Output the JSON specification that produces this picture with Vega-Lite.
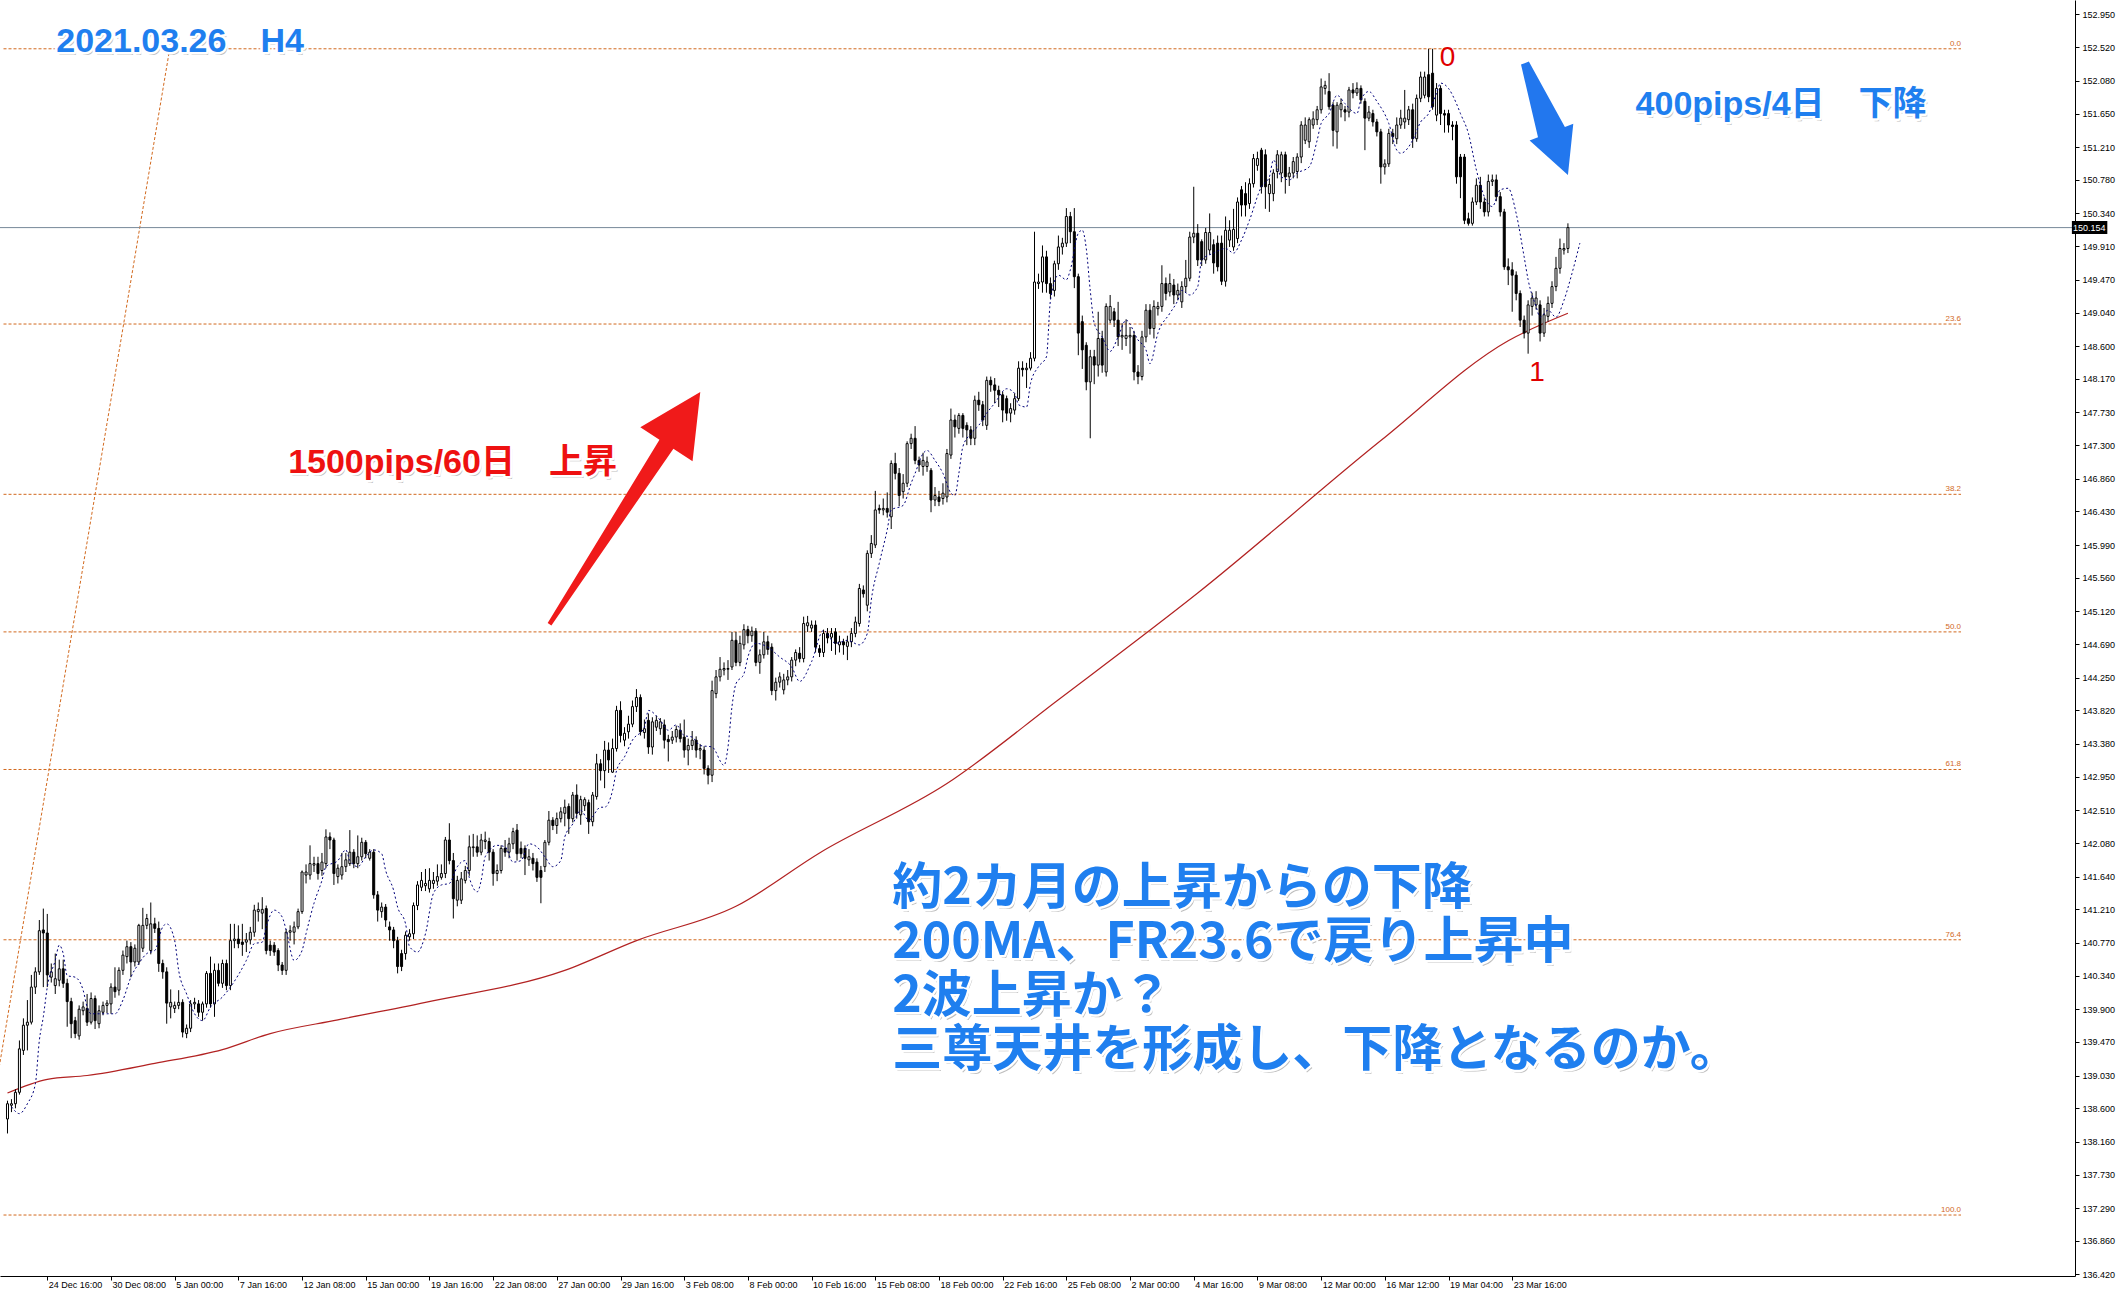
{
"$schema":"https://vega.github.io/schema/vega-lite/v6.json",
"width":2075,"height":1276,
"autosize":{"type":"none"},
"padding":{"left":0,"top":0,"right":43,"bottom":14},
"background":"white",
"config":{"view":{"stroke":null}},
"resolve":{"axis":{"x":"independent","y":"independent"}},
"datasets":{
"candles":[
{"i":0,"o":138.46,"h":138.7,"l":138.27,"c":138.66},{"i":1,"o":138.64,"h":138.72,"l":138.55,"c":138.66},{"i":2,"o":138.66,"h":138.85,"l":138.6,"c":138.81},{"i":3,"o":138.81,"h":139.49,"l":138.78,"c":139.38},{"i":4,"o":139.36,"h":139.78,"l":139.3,"c":139.69},{"i":5,"o":139.69,"h":140.02,"l":139.36,"c":139.73},{"i":6,"o":139.73,"h":140.35,"l":139.7,"c":140.19},{"i":7,"o":140.19,"h":140.45,"l":140.1,"c":140.39},{"i":8,"o":140.39,"h":141.07,"l":140.35,"c":140.93},{"i":9,"o":140.94,"h":141.22,"l":140.19,"c":140.9},
{"i":10,"o":140.9,"h":141.15,"l":140.19,"c":140.35},{"i":11,"o":140.32,"h":140.5,"l":140.25,"c":140.39},{"i":12,"o":140.21,"h":140.63,"l":140.1,"c":140.3},{"i":13,"o":140.28,"h":140.55,"l":140.2,"c":140.43},{"i":14,"o":140.43,"h":140.55,"l":140.18,"c":140.24},{"i":15,"o":140.24,"h":140.3,"l":139.67,"c":140.0},{"i":16,"o":140.0,"h":140.05,"l":139.52,"c":139.71},{"i":17,"o":139.75,"h":139.8,"l":139.52,"c":139.58},{"i":18,"o":139.55,"h":139.95,"l":139.5,"c":139.9},{"i":19,"o":139.88,"h":140.0,"l":139.82,"c":139.93},
{"i":20,"o":139.91,"h":140.1,"l":139.68,"c":139.73},{"i":21,"o":139.73,"h":140.12,"l":139.7,"c":140.04},{"i":22,"o":140.04,"h":140.08,"l":139.64,"c":139.75},{"i":23,"o":139.71,"h":139.95,"l":139.65,"c":139.88},{"i":24,"o":139.86,"h":140.0,"l":139.82,"c":139.95},{"i":25,"o":139.95,"h":140.02,"l":139.85,"c":139.98},{"i":26,"o":139.97,"h":140.24,"l":139.84,"c":140.19},{"i":27,"o":140.19,"h":140.45,"l":140.05,"c":140.13},{"i":28,"o":140.15,"h":140.45,"l":140.08,"c":140.41},{"i":29,"o":140.41,"h":140.67,"l":140.35,"c":140.61},
{"i":30,"o":140.59,"h":140.8,"l":140.5,"c":140.72},{"i":31,"o":140.72,"h":140.78,"l":140.32,"c":140.52},{"i":32,"o":140.52,"h":140.75,"l":140.46,"c":140.7},{"i":33,"o":140.52,"h":141.02,"l":140.48,"c":141.0},{"i":34,"o":140.7,"h":141.23,"l":140.65,"c":141.0},{"i":35,"o":141.0,"h":141.15,"l":140.95,"c":141.09},{"i":36,"o":140.67,"h":141.3,"l":140.62,"c":141.02},{"i":37,"o":141.02,"h":141.1,"l":140.9,"c":140.96},{"i":38,"o":140.96,"h":141.05,"l":140.39,"c":140.5},{"i":39,"o":140.5,"h":140.55,"l":140.3,"c":140.39},
{"i":40,"o":140.39,"h":140.45,"l":139.71,"c":139.98},{"i":41,"o":139.93,"h":140.16,"l":139.78,"c":139.99},{"i":42,"o":139.91,"h":140.0,"l":139.85,"c":139.95},{"i":43,"o":139.95,"h":140.15,"l":139.9,"c":139.99},{"i":44,"o":139.99,"h":140.03,"l":139.53,"c":139.6},{"i":45,"o":139.58,"h":139.7,"l":139.52,"c":139.65},{"i":46,"o":139.65,"h":140.02,"l":139.6,"c":139.97},{"i":47,"o":139.97,"h":140.05,"l":139.9,"c":139.99},{"i":48,"o":139.97,"h":140.02,"l":139.8,"c":139.86},{"i":49,"o":139.86,"h":140.0,"l":139.75,"c":139.97},
{"i":50,"o":139.97,"h":140.4,"l":139.92,"c":140.37},{"i":51,"o":140.37,"h":140.59,"l":139.92,"c":139.97},{"i":52,"o":139.97,"h":140.5,"l":139.8,"c":140.41},{"i":53,"o":140.41,"h":140.5,"l":140.2,"c":140.24},{"i":54,"o":140.24,"h":140.55,"l":140.18,"c":140.5},{"i":55,"o":140.5,"h":140.55,"l":140.15,"c":140.21},{"i":56,"o":140.21,"h":141.02,"l":140.15,"c":140.8},{"i":57,"o":140.8,"h":141.02,"l":140.7,"c":140.82},{"i":58,"o":140.82,"h":141.0,"l":140.7,"c":140.76},{"i":59,"o":140.78,"h":141.02,"l":140.6,"c":140.75},
{"i":60,"o":140.78,"h":140.9,"l":140.65,"c":140.81},{"i":61,"o":140.81,"h":140.98,"l":140.75,"c":140.91},{"i":62,"o":140.91,"h":141.27,"l":140.85,"c":141.2},{"i":63,"o":141.18,"h":141.3,"l":141.05,"c":141.21},{"i":64,"o":141.16,"h":141.37,"l":140.95,"c":141.21},{"i":65,"o":141.22,"h":141.26,"l":140.62,"c":140.67},{"i":66,"o":140.74,"h":140.8,"l":140.6,"c":140.67},{"i":67,"o":140.74,"h":140.78,"l":140.6,"c":140.65},{"i":68,"o":140.67,"h":140.7,"l":140.4,"c":140.48},{"i":69,"o":140.48,"h":140.52,"l":140.35,"c":140.41},
{"i":70,"o":140.41,"h":140.95,"l":140.35,"c":140.91},{"i":71,"o":140.91,"h":141.0,"l":140.8,"c":140.93},{"i":72,"o":140.91,"h":141.05,"l":140.75,"c":140.98},{"i":73,"o":140.98,"h":141.22,"l":140.95,"c":141.18},{"i":74,"o":141.18,"h":141.72,"l":141.15,"c":141.7},{"i":75,"o":141.66,"h":141.8,"l":141.55,"c":141.7},{"i":76,"o":141.66,"h":142.05,"l":141.6,"c":141.81},{"i":77,"o":141.79,"h":141.9,"l":141.7,"c":141.81},{"i":78,"o":141.81,"h":141.9,"l":141.6,"c":141.68},{"i":79,"o":141.72,"h":141.95,"l":141.65,"c":141.83},
{"i":80,"o":141.81,"h":142.26,"l":141.75,"c":142.16},{"i":81,"o":142.16,"h":142.22,"l":142.0,"c":142.12},{"i":82,"o":142.12,"h":142.15,"l":141.53,"c":141.68},{"i":83,"o":141.64,"h":141.8,"l":141.55,"c":141.75},{"i":84,"o":141.66,"h":141.95,"l":141.6,"c":141.77},{"i":85,"o":141.77,"h":141.95,"l":141.7,"c":141.86},{"i":86,"o":141.81,"h":142.25,"l":141.78,"c":141.96},{"i":87,"o":141.96,"h":142.0,"l":141.75,"c":141.81},{"i":88,"o":141.81,"h":142.18,"l":141.75,"c":141.9},{"i":89,"o":141.9,"h":142.15,"l":141.85,"c":142.09},
{"i":90,"o":142.09,"h":142.12,"l":141.88,"c":141.94},{"i":91,"o":141.88,"h":142.0,"l":141.85,"c":141.96},{"i":92,"o":141.96,"h":142.0,"l":141.35,"c":141.4},{"i":93,"o":141.4,"h":141.45,"l":141.05,"c":141.2},{"i":94,"o":141.18,"h":141.3,"l":141.1,"c":141.24},{"i":95,"o":141.24,"h":141.28,"l":140.98,"c":141.07},{"i":96,"o":140.98,"h":141.05,"l":140.8,"c":140.94},{"i":97,"o":140.94,"h":140.98,"l":140.7,"c":140.8},{"i":98,"o":140.8,"h":140.85,"l":140.37,"c":140.46},{"i":99,"o":140.63,"h":140.68,"l":140.4,"c":140.46},
{"i":100,"o":140.63,"h":140.92,"l":140.55,"c":140.87},{"i":101,"o":140.85,"h":140.95,"l":140.8,"c":140.89},{"i":102,"o":140.89,"h":141.3,"l":140.82,"c":141.26},{"i":103,"o":141.26,"h":141.58,"l":141.2,"c":141.53},{"i":104,"o":141.5,"h":141.7,"l":141.45,"c":141.59},{"i":105,"o":141.52,"h":141.74,"l":141.45,"c":141.55},{"i":106,"o":141.48,"h":141.75,"l":141.43,"c":141.59},{"i":107,"o":141.55,"h":141.7,"l":141.48,"c":141.59},{"i":108,"o":141.58,"h":141.8,"l":141.52,"c":141.64},{"i":109,"o":141.63,"h":141.8,"l":141.6,"c":141.68},
{"i":110,"o":141.68,"h":142.16,"l":141.62,"c":142.12},{"i":111,"o":142.12,"h":142.34,"l":141.8,"c":141.85},{"i":112,"o":141.85,"h":141.95,"l":141.09,"c":141.35},{"i":113,"o":141.33,"h":141.65,"l":141.25,"c":141.59},{"i":114,"o":141.33,"h":141.7,"l":141.28,"c":141.61},{"i":115,"o":141.59,"h":141.78,"l":141.55,"c":141.72},{"i":116,"o":141.72,"h":142.18,"l":141.65,"c":142.03},{"i":117,"o":142.02,"h":142.2,"l":141.9,"c":142.03},{"i":118,"o":142.03,"h":142.18,"l":141.9,"c":141.96},{"i":119,"o":141.96,"h":142.2,"l":141.92,"c":142.12},
{"i":120,"o":142.1,"h":142.23,"l":142.0,"c":142.12},{"i":121,"o":142.1,"h":142.15,"l":141.85,"c":141.96},{"i":122,"o":141.96,"h":142.0,"l":141.52,"c":141.68},{"i":123,"o":141.68,"h":141.8,"l":141.58,"c":141.72},{"i":124,"o":141.72,"h":142.05,"l":141.68,"c":142.01},{"i":125,"o":142.01,"h":142.12,"l":141.9,"c":141.96},{"i":126,"o":141.96,"h":142.15,"l":141.88,"c":142.07},{"i":127,"o":142.07,"h":142.28,"l":142.0,"c":142.23},{"i":128,"o":142.25,"h":142.33,"l":141.85,"c":141.94},{"i":129,"o":142.01,"h":142.1,"l":141.88,"c":141.94},
{"i":130,"o":142.01,"h":142.05,"l":141.66,"c":141.88},{"i":131,"o":141.86,"h":142.0,"l":141.78,"c":141.9},{"i":132,"o":141.88,"h":141.95,"l":141.72,"c":141.81},{"i":133,"o":141.83,"h":141.88,"l":141.57,"c":141.63},{"i":134,"o":141.72,"h":141.78,"l":141.29,"c":141.63},{"i":135,"o":141.77,"h":142.12,"l":141.7,"c":142.09},{"i":136,"o":142.09,"h":142.5,"l":142.05,"c":142.38},{"i":137,"o":142.38,"h":142.42,"l":142.25,"c":142.31},{"i":138,"o":142.31,"h":142.48,"l":142.2,"c":142.4},{"i":139,"o":142.4,"h":142.55,"l":142.35,"c":142.49},
{"i":140,"o":142.47,"h":142.65,"l":142.3,"c":142.55},{"i":141,"o":142.56,"h":142.6,"l":142.2,"c":142.4},{"i":142,"o":142.4,"h":142.75,"l":142.35,"c":142.71},{"i":143,"o":142.71,"h":142.85,"l":142.4,"c":142.47},{"i":144,"o":142.45,"h":142.7,"l":142.32,"c":142.65},{"i":145,"o":142.57,"h":142.68,"l":142.5,"c":142.65},{"i":146,"o":142.61,"h":142.65,"l":142.2,"c":142.36},{"i":147,"o":142.36,"h":142.75,"l":142.3,"c":142.71},{"i":148,"o":142.69,"h":143.25,"l":142.65,"c":143.12},{"i":149,"o":143.12,"h":143.18,"l":142.9,"c":143.03},
{"i":150,"o":143.03,"h":143.42,"l":142.8,"c":143.3},{"i":151,"o":143.3,"h":143.4,"l":143.0,"c":143.17},{"i":152,"o":143.01,"h":143.45,"l":143.0,"c":143.32},{"i":153,"o":143.32,"h":143.88,"l":143.28,"c":143.82},{"i":154,"o":143.82,"h":143.94,"l":143.4,"c":143.49},{"i":155,"o":143.43,"h":143.6,"l":143.35,"c":143.52},{"i":156,"o":143.54,"h":143.75,"l":143.45,"c":143.64},{"i":157,"o":143.64,"h":143.95,"l":143.6,"c":143.87},{"i":158,"o":143.87,"h":144.1,"l":143.8,"c":143.99},{"i":159,"o":143.99,"h":144.03,"l":143.49,"c":143.54},
{"i":160,"o":143.53,"h":143.7,"l":143.45,"c":143.58},{"i":161,"o":143.69,"h":143.78,"l":143.25,"c":143.34},{"i":162,"o":143.34,"h":143.73,"l":143.24,"c":143.67},{"i":163,"o":143.6,"h":143.75,"l":143.55,"c":143.69},{"i":164,"o":143.58,"h":143.72,"l":143.5,"c":143.67},{"i":165,"o":143.63,"h":143.7,"l":143.32,"c":143.43},{"i":166,"o":143.44,"h":143.5,"l":143.15,"c":143.41},{"i":167,"o":143.43,"h":143.55,"l":143.38,"c":143.47},{"i":168,"o":143.47,"h":143.62,"l":143.4,"c":143.57},{"i":169,"o":143.56,"h":143.65,"l":143.4,"c":143.45},
{"i":170,"o":143.47,"h":143.7,"l":143.2,"c":143.3},{"i":171,"o":143.3,"h":143.45,"l":143.1,"c":143.36},{"i":172,"o":143.36,"h":143.55,"l":143.3,"c":143.43},{"i":173,"o":143.43,"h":143.48,"l":143.2,"c":143.3},{"i":174,"o":143.3,"h":143.38,"l":143.18,"c":143.32},{"i":175,"o":143.3,"h":143.35,"l":142.98,"c":143.06},{"i":176,"o":143.06,"h":143.1,"l":142.85,"c":142.97},{"i":177,"o":142.97,"h":144.21,"l":142.88,"c":144.08},{"i":178,"o":144.04,"h":144.35,"l":143.98,"c":144.26},{"i":179,"o":144.26,"h":144.52,"l":144.2,"c":144.36},
{"i":180,"o":144.35,"h":144.45,"l":144.28,"c":144.37},{"i":181,"o":144.36,"h":144.48,"l":144.22,"c":144.37},{"i":182,"o":144.39,"h":144.85,"l":144.35,"c":144.74},{"i":183,"o":144.74,"h":144.85,"l":144.4,"c":144.45},{"i":184,"o":144.45,"h":144.8,"l":144.4,"c":144.7},{"i":185,"o":144.68,"h":144.95,"l":144.62,"c":144.88},{"i":186,"o":144.88,"h":144.93,"l":144.7,"c":144.8},{"i":187,"o":144.8,"h":144.92,"l":144.72,"c":144.86},{"i":188,"o":144.86,"h":144.9,"l":144.4,"c":144.45},{"i":189,"o":144.45,"h":144.62,"l":144.3,"c":144.55},
{"i":190,"o":144.55,"h":144.85,"l":144.5,"c":144.72},{"i":191,"o":144.72,"h":144.8,"l":144.55,"c":144.62},{"i":192,"o":144.65,"h":144.7,"l":144.02,"c":144.08},{"i":193,"o":144.08,"h":144.25,"l":143.95,"c":144.19},{"i":194,"o":144.19,"h":144.32,"l":144.12,"c":144.26},{"i":195,"o":144.09,"h":144.3,"l":144.03,"c":144.22},{"i":196,"o":144.22,"h":144.35,"l":144.15,"c":144.26},{"i":197,"o":144.26,"h":144.52,"l":144.2,"c":144.48},{"i":198,"o":144.48,"h":144.62,"l":144.4,"c":144.58},{"i":199,"o":144.57,"h":144.65,"l":144.45,"c":144.5},
{"i":200,"o":144.5,"h":145.05,"l":144.45,"c":144.96},{"i":201,"o":144.93,"h":145.06,"l":144.85,"c":144.97},{"i":202,"o":144.9,"h":145.0,"l":144.85,"c":144.94},{"i":203,"o":144.94,"h":145.0,"l":144.58,"c":144.65},{"i":204,"o":144.63,"h":144.68,"l":144.52,"c":144.58},{"i":205,"o":144.58,"h":144.88,"l":144.52,"c":144.83},{"i":206,"o":144.83,"h":144.9,"l":144.7,"c":144.77},{"i":207,"o":144.78,"h":144.9,"l":144.6,"c":144.83},{"i":208,"o":144.85,"h":144.9,"l":144.55,"c":144.7},{"i":209,"o":144.68,"h":144.8,"l":144.58,"c":144.72},
{"i":210,"o":144.72,"h":144.76,"l":144.55,"c":144.68},{"i":211,"o":144.66,"h":144.8,"l":144.48,"c":144.72},{"i":212,"o":144.72,"h":144.9,"l":144.65,"c":144.83},{"i":213,"o":144.83,"h":145.05,"l":144.78,"c":144.98},{"i":214,"o":144.96,"h":145.48,"l":144.92,"c":145.42},{"i":215,"o":145.4,"h":145.46,"l":145.3,"c":145.35},{"i":216,"o":145.2,"h":145.92,"l":145.12,"c":145.88},{"i":217,"o":145.88,"h":146.12,"l":145.82,"c":146.01},{"i":218,"o":145.99,"h":146.7,"l":145.95,"c":146.45},{"i":219,"o":146.47,"h":146.52,"l":146.4,"c":146.45},
{"i":220,"o":146.45,"h":146.6,"l":146.38,"c":146.47},{"i":221,"o":146.47,"h":146.68,"l":146.35,"c":146.42},{"i":222,"o":146.36,"h":147.1,"l":146.2,"c":147.06},{"i":223,"o":147.06,"h":147.2,"l":146.85,"c":146.93},{"i":224,"o":146.93,"h":147.0,"l":146.5,"c":146.64},{"i":225,"o":146.69,"h":146.92,"l":146.6,"c":146.8},{"i":226,"o":146.8,"h":147.35,"l":146.75,"c":147.32},{"i":227,"o":147.32,"h":147.45,"l":147.25,"c":147.39},{"i":228,"o":147.39,"h":147.55,"l":147.05,"c":147.1},{"i":229,"o":147.1,"h":147.15,"l":146.95,"c":147.04},
{"i":230,"o":147.02,"h":147.2,"l":146.9,"c":147.1},{"i":231,"o":147.02,"h":147.15,"l":146.95,"c":147.08},{"i":232,"o":146.97,"h":147.0,"l":146.42,"c":146.58},{"i":233,"o":146.58,"h":146.75,"l":146.5,"c":146.64},{"i":234,"o":146.62,"h":146.7,"l":146.5,"c":146.56},{"i":235,"o":146.6,"h":146.8,"l":146.52,"c":146.67},{"i":236,"o":146.62,"h":147.25,"l":146.55,"c":147.19},{"i":237,"o":147.17,"h":147.78,"l":147.12,"c":147.63},{"i":238,"o":147.63,"h":147.7,"l":147.4,"c":147.54},{"i":239,"o":147.52,"h":147.72,"l":147.45,"c":147.69},
{"i":240,"o":147.69,"h":147.72,"l":147.4,"c":147.52},{"i":241,"o":147.56,"h":147.6,"l":147.3,"c":147.5},{"i":242,"o":147.5,"h":147.55,"l":147.3,"c":147.39},{"i":243,"o":147.39,"h":147.95,"l":147.3,"c":147.89},{"i":244,"o":147.89,"h":148.0,"l":147.75,"c":147.83},{"i":245,"o":147.83,"h":147.88,"l":147.55,"c":147.63},{"i":246,"o":147.56,"h":148.2,"l":147.5,"c":148.15},{"i":247,"o":148.15,"h":148.2,"l":148.0,"c":148.09},{"i":248,"o":148.09,"h":148.18,"l":147.85,"c":148.02},{"i":249,"o":148.02,"h":148.08,"l":147.8,"c":147.96},
{"i":250,"o":147.96,"h":148.0,"l":147.6,"c":147.76},{"i":251,"o":147.91,"h":147.95,"l":147.62,"c":147.72},{"i":252,"o":147.72,"h":147.85,"l":147.6,"c":147.78},{"i":253,"o":147.76,"h":147.98,"l":147.7,"c":147.91},{"i":254,"o":147.91,"h":148.4,"l":147.88,"c":148.31},{"i":255,"o":148.31,"h":148.4,"l":148.2,"c":148.29},{"i":256,"o":148.29,"h":148.38,"l":148.05,"c":148.31},{"i":257,"o":148.31,"h":148.52,"l":148.28,"c":148.44},{"i":258,"o":148.44,"h":150.1,"l":148.4,"c":149.44},{"i":259,"o":149.42,"h":149.55,"l":149.35,"c":149.44},
{"i":260,"o":149.44,"h":149.92,"l":149.3,"c":149.77},{"i":261,"o":149.77,"h":149.85,"l":149.3,"c":149.42},{"i":262,"o":149.42,"h":149.5,"l":149.22,"c":149.29},{"i":263,"o":149.33,"h":149.72,"l":149.25,"c":149.68},{"i":264,"o":149.68,"h":150.05,"l":149.6,"c":149.9},{"i":265,"o":149.9,"h":150.02,"l":149.8,"c":149.95},{"i":266,"o":149.95,"h":150.41,"l":149.9,"c":150.3},{"i":267,"o":150.3,"h":150.36,"l":149.95,"c":150.1},{"i":268,"o":150.1,"h":150.41,"l":149.36,"c":149.51},{"i":269,"o":149.51,"h":149.55,"l":148.48,"c":148.77},
{"i":270,"o":148.92,"h":149.0,"l":148.3,"c":148.55},{"i":271,"o":148.61,"h":148.65,"l":148.02,"c":148.13},{"i":272,"o":148.13,"h":148.55,"l":147.39,"c":148.46},{"i":273,"o":148.46,"h":148.55,"l":148.1,"c":148.35},{"i":274,"o":148.35,"h":149.05,"l":148.2,"c":148.7},{"i":275,"o":148.7,"h":148.8,"l":148.25,"c":148.35},{"i":276,"o":148.26,"h":149.16,"l":148.2,"c":149.12},{"i":277,"o":148.94,"h":149.27,"l":148.9,"c":149.12},{"i":278,"o":149.05,"h":149.1,"l":148.85,"c":148.94},{"i":279,"o":148.94,"h":149.18,"l":148.6,"c":148.72},
{"i":280,"o":148.72,"h":148.9,"l":148.55,"c":148.74},{"i":281,"o":148.7,"h":148.95,"l":148.6,"c":148.74},{"i":282,"o":148.72,"h":148.85,"l":148.5,"c":148.74},{"i":283,"o":148.74,"h":148.8,"l":148.15,"c":148.26},{"i":284,"o":148.26,"h":148.35,"l":148.1,"c":148.2},{"i":285,"o":148.2,"h":148.8,"l":148.15,"c":148.72},{"i":286,"o":148.72,"h":149.15,"l":148.65,"c":149.07},{"i":287,"o":149.07,"h":149.15,"l":148.75,"c":148.83},{"i":288,"o":148.83,"h":149.2,"l":148.7,"c":149.12},{"i":289,"o":149.09,"h":149.18,"l":149.0,"c":149.12},
{"i":290,"o":149.12,"h":149.66,"l":149.05,"c":149.42},{"i":291,"o":149.42,"h":149.5,"l":149.2,"c":149.29},{"i":292,"o":149.31,"h":149.55,"l":149.25,"c":149.42},{"i":293,"o":149.4,"h":149.48,"l":149.15,"c":149.27},{"i":294,"o":149.27,"h":149.42,"l":149.2,"c":149.33},{"i":295,"o":149.18,"h":149.45,"l":149.1,"c":149.38},{"i":296,"o":149.38,"h":149.73,"l":149.3,"c":149.49},{"i":297,"o":149.49,"h":150.1,"l":149.45,"c":150.03},{"i":298,"o":150.03,"h":150.69,"l":149.95,"c":150.08},{"i":299,"o":150.08,"h":150.2,"l":149.65,"c":149.73},
{"i":300,"o":149.97,"h":150.0,"l":149.65,"c":149.73},{"i":301,"o":149.73,"h":150.15,"l":149.68,"c":150.09},{"i":302,"o":149.86,"h":150.34,"l":149.8,"c":150.09},{"i":303,"o":149.93,"h":150.0,"l":149.55,"c":149.69},{"i":304,"o":149.95,"h":150.05,"l":149.58,"c":149.64},{"i":305,"o":149.95,"h":150.05,"l":149.4,"c":149.45},{"i":306,"o":149.45,"h":150.3,"l":149.38,"c":150.12},{"i":307,"o":149.99,"h":150.25,"l":149.9,"c":150.12},{"i":308,"o":149.9,"h":150.4,"l":149.85,"c":150.13},{"i":309,"o":150.01,"h":150.55,"l":149.95,"c":150.49},
{"i":310,"o":150.65,"h":150.7,"l":150.3,"c":150.45},{"i":311,"o":150.6,"h":150.75,"l":150.3,"c":150.45},{"i":312,"o":150.47,"h":150.8,"l":150.4,"c":150.73},{"i":313,"o":150.73,"h":151.12,"l":150.68,"c":151.06},{"i":314,"o":150.97,"h":151.15,"l":150.9,"c":151.06},{"i":315,"o":151.17,"h":151.2,"l":150.6,"c":150.69},{"i":316,"o":151.11,"h":151.18,"l":150.4,"c":150.69},{"i":317,"o":150.6,"h":150.8,"l":150.36,"c":150.72},{"i":318,"o":150.6,"h":150.92,"l":150.5,"c":150.87},{"i":319,"o":150.89,"h":151.17,"l":150.8,"c":151.11},
{"i":320,"o":150.87,"h":151.15,"l":150.75,"c":151.11},{"i":321,"o":151.11,"h":151.15,"l":150.6,"c":150.82},{"i":322,"o":150.82,"h":150.95,"l":150.7,"c":150.87},{"i":323,"o":150.87,"h":151.08,"l":150.8,"c":151.02},{"i":324,"o":150.89,"h":151.13,"l":150.8,"c":151.08},{"i":325,"o":151.08,"h":151.55,"l":151.0,"c":151.5},{"i":326,"o":151.3,"h":151.6,"l":151.25,"c":151.5},{"i":327,"o":151.28,"h":151.6,"l":151.2,"c":151.57},{"i":328,"o":151.5,"h":151.68,"l":151.45,"c":151.58},{"i":329,"o":151.57,"h":151.75,"l":151.5,"c":151.7},
{"i":330,"o":151.7,"h":152.11,"l":151.65,"c":152.0},{"i":331,"o":151.98,"h":152.08,"l":151.9,"c":152.02},{"i":332,"o":151.94,"h":152.18,"l":151.7,"c":151.74},{"i":333,"o":151.76,"h":151.8,"l":151.22,"c":151.43},{"i":334,"o":151.41,"h":151.8,"l":151.19,"c":151.76},{"i":335,"o":151.7,"h":151.85,"l":151.6,"c":151.78},{"i":336,"o":151.7,"h":151.75,"l":151.55,"c":151.67},{"i":337,"o":151.67,"h":152.0,"l":151.6,"c":151.96},{"i":338,"o":151.96,"h":152.05,"l":151.85,"c":151.92},{"i":339,"o":151.92,"h":152.06,"l":151.88,"c":151.98},
{"i":340,"o":151.98,"h":152.02,"l":151.78,"c":151.83},{"i":341,"o":151.81,"h":151.85,"l":151.17,"c":151.59},{"i":342,"o":151.59,"h":151.75,"l":151.55,"c":151.67},{"i":343,"o":151.65,"h":151.7,"l":151.48,"c":151.54},{"i":344,"o":151.54,"h":151.58,"l":151.35,"c":151.41},{"i":345,"o":151.41,"h":151.45,"l":150.73,"c":150.95},{"i":346,"o":150.95,"h":151.05,"l":150.85,"c":150.99},{"i":347,"o":150.99,"h":151.45,"l":150.95,"c":151.39},{"i":348,"o":151.39,"h":151.45,"l":151.25,"c":151.35},{"i":349,"o":151.32,"h":151.6,"l":151.25,"c":151.5},
{"i":350,"o":151.5,"h":151.7,"l":151.45,"c":151.59},{"i":351,"o":151.54,"h":151.96,"l":151.45,"c":151.59},{"i":352,"o":151.57,"h":151.75,"l":151.5,"c":151.7},{"i":353,"o":151.7,"h":151.78,"l":151.2,"c":151.32},{"i":354,"o":151.32,"h":151.9,"l":151.28,"c":151.85},{"i":355,"o":151.85,"h":152.2,"l":151.8,"c":152.13},{"i":356,"o":151.89,"h":152.2,"l":151.85,"c":152.13},{"i":357,"o":152.16,"h":152.5,"l":151.8,"c":151.87},{"i":358,"o":152.18,"h":152.5,"l":151.7,"c":151.74},{"i":359,"o":151.63,"h":152.05,"l":151.55,"c":151.98},
{"i":360,"o":151.98,"h":152.02,"l":151.5,"c":151.65},{"i":361,"o":151.65,"h":151.7,"l":151.4,"c":151.63},{"i":362,"o":151.65,"h":151.7,"l":151.4,"c":151.5},{"i":363,"o":151.5,"h":151.55,"l":151.3,"c":151.48},{"i":364,"o":151.5,"h":151.55,"l":150.73,"c":150.82},{"i":365,"o":151.08,"h":151.12,"l":150.54,"c":150.82},{"i":366,"o":151.08,"h":151.12,"l":150.2,"c":150.25},{"i":367,"o":150.27,"h":150.35,"l":150.18,"c":150.21},{"i":368,"o":150.21,"h":150.55,"l":150.18,"c":150.49},{"i":369,"o":150.49,"h":150.8,"l":150.45,"c":150.71},
{"i":370,"o":150.71,"h":150.82,"l":150.4,"c":150.49},{"i":371,"o":150.49,"h":150.55,"l":150.3,"c":150.36},{"i":372,"o":150.36,"h":150.85,"l":150.3,"c":150.76},{"i":373,"o":150.76,"h":150.85,"l":150.7,"c":150.78},{"i":374,"o":150.78,"h":150.85,"l":150.5,"c":150.56},{"i":375,"o":150.56,"h":150.62,"l":150.3,"c":150.36},{"i":376,"o":150.36,"h":150.4,"l":149.6,"c":149.64},{"i":377,"o":149.64,"h":149.75,"l":149.4,"c":149.6},{"i":378,"o":149.6,"h":149.7,"l":149.05,"c":149.53},{"i":379,"o":149.53,"h":149.58,"l":149.2,"c":149.29},
{"i":380,"o":149.29,"h":149.33,"l":148.85,"c":148.94},{"i":381,"o":148.94,"h":149.0,"l":148.7,"c":148.77},{"i":382,"o":148.77,"h":149.2,"l":148.5,"c":149.14},{"i":383,"o":149.12,"h":149.3,"l":149.0,"c":149.23},{"i":384,"o":149.14,"h":149.32,"l":149.08,"c":149.23},{"i":385,"o":149.14,"h":149.2,"l":148.66,"c":148.77},{"i":386,"o":148.77,"h":149.1,"l":148.72,"c":149.01},{"i":387,"o":148.99,"h":149.25,"l":148.92,"c":149.16},{"i":388,"o":149.16,"h":149.45,"l":149.1,"c":149.38},{"i":389,"o":149.38,"h":149.77,"l":149.32,"c":149.62},
{"i":390,"o":149.62,"h":150.01,"l":149.55,"c":149.88},{"i":391,"o":149.86,"h":149.95,"l":149.8,"c":149.88},{"i":392,"o":149.88,"h":150.21,"l":149.82,"c":150.154}
],
"ma200":[{"i":0,"p":138.8},{"i":10,"p":138.98},{"i":20,"p":139.03},{"i":37,"p":139.19},{"i":54,"p":139.37},{"i":66,"p":139.58},{"i":83,"p":139.76},{"i":105,"p":139.99},{"i":140,"p":140.41},{"i":158,"p":140.8},{"i":183,"p":141.25},{"i":204,"p":141.95},{"i":236,"p":142.86},{"i":264,"p":143.96},{"i":299,"p":145.36},{"i":345,"p":147.36},{"i":377,"p":148.67},{"i":392,"p":149.03}],
"mafast":[{"i":1,"p":138.62},{"i":3,"p":138.53},{"i":5,"p":138.66},{"i":7,"p":138.92},{"i":8,"p":139.49},{"i":9,"p":139.8},{"i":10,"p":140.19},{"i":12,"p":140.54},{"i":13,"p":140.74},{"i":14,"p":140.63},{"i":15,"p":140.34},{"i":17,"p":140.32},{"i":19,"p":140.15},{"i":20,"p":139.93},{"i":21,"p":139.84},{"i":25,"p":139.84},{"i":27,"p":139.84},{"i":29,"p":140.02},{"i":31,"p":140.32},{"i":33,"p":140.5},{"i":35,"p":140.63},{"i":37,"p":140.67},{"i":39,"p":140.98},{"i":40,"p":141.02},{"i":42,"p":140.8},{"i":43,"p":140.41},{"i":45,"p":140.1},{"i":47,"p":139.84},{"i":49,"p":139.75},{"i":51,"p":139.93},{"i":54,"p":140.06},{"i":56,"p":140.19},{"i":58,"p":140.35},{"i":60,"p":140.54},{"i":62,"p":140.76},{"i":64,"p":140.78},{"i":65,"p":140.98},{"i":67,"p":141.2},{"i":69,"p":141.11},{"i":70,"p":140.94},{"i":72,"p":140.54},{"i":74,"p":140.67},{"i":75,"p":140.89},{"i":77,"p":141.29},{"i":79,"p":141.59},{"i":80,"p":141.77},{"i":83,"p":141.85},{"i":85,"p":141.99},{"i":86,"p":141.85},{"i":88,"p":141.77},{"i":90,"p":141.9},{"i":92,"p":141.99},{"i":94,"p":141.94},{"i":95,"p":141.72},{"i":97,"p":141.46},{"i":98,"p":141.24},{"i":100,"p":141.02},{"i":101,"p":140.72},{"i":103,"p":140.65},{"i":105,"p":140.89},{"i":107,"p":141.42},{"i":109,"p":141.53},{"i":111,"p":141.55},{"i":113,"p":141.77},{"i":115,"p":141.85},{"i":116,"p":141.63},{"i":118,"p":141.44},{"i":119,"p":141.59},{"i":120,"p":141.9},{"i":123,"p":142.05},{"i":125,"p":142.03},{"i":127,"p":141.83},{"i":129,"p":141.85},{"i":131,"p":142.07},{"i":133,"p":142.03},{"i":135,"p":141.9},{"i":137,"p":141.77},{"i":139,"p":141.85},{"i":140,"p":142.16},{"i":142,"p":142.33},{"i":144,"p":142.51},{"i":146,"p":142.38},{"i":149,"p":142.55},{"i":150,"p":142.55},{"i":152,"p":142.77},{"i":153,"p":143.03},{"i":155,"p":143.21},{"i":157,"p":143.43},{"i":160,"p":143.6},{"i":161,"p":143.82},{"i":164,"p":143.69},{"i":166,"p":143.56},{"i":168,"p":143.63},{"i":170,"p":143.49},{"i":172,"p":143.47},{"i":174,"p":143.36},{"i":177,"p":143.34},{"i":180,"p":143.1},{"i":181,"p":143.34},{"i":182,"p":143.87},{"i":183,"p":144.17},{"i":185,"p":144.3},{"i":186,"p":144.52},{"i":188,"p":144.7},{"i":191,"p":144.65},{"i":194,"p":144.52},{"i":197,"p":144.39},{"i":199,"p":144.2},{"i":202,"p":144.46},{"i":205,"p":144.87},{"i":208,"p":144.7},{"i":211,"p":144.74},{"i":214,"p":144.68},{"i":216,"p":144.83},{"i":217,"p":145.27},{"i":219,"p":145.75},{"i":221,"p":146.19},{"i":222,"p":146.45},{"i":225,"p":146.51},{"i":227,"p":146.8},{"i":228,"p":146.93},{"i":230,"p":147.19},{"i":231,"p":147.23},{"i":233,"p":147.1},{"i":235,"p":146.93},{"i":237,"p":146.67},{"i":238,"p":146.64},{"i":239,"p":146.93},{"i":240,"p":147.28},{"i":242,"p":147.45},{"i":244,"p":147.56},{"i":246,"p":147.72},{"i":248,"p":147.85},{"i":251,"p":148.04},{"i":253,"p":147.98},{"i":254,"p":147.83},{"i":256,"p":147.8},{"i":257,"p":148.11},{"i":259,"p":148.33},{"i":261,"p":148.46},{"i":262,"p":149.2},{"i":264,"p":149.53},{"i":266,"p":149.47},{"i":267,"p":149.6},{"i":269,"p":150.08},{"i":270,"p":150.12},{"i":271,"p":149.88},{"i":272,"p":149.33},{"i":273,"p":148.9},{"i":275,"p":148.72},{"i":277,"p":148.53},{"i":279,"p":148.72},{"i":281,"p":148.94},{"i":284,"p":148.68},{"i":286,"p":148.55},{"i":287,"p":148.37},{"i":289,"p":148.77},{"i":292,"p":149.03},{"i":294,"p":149.2},{"i":295,"p":149.33},{"i":297,"p":149.27},{"i":299,"p":149.38},{"i":300,"p":149.73},{"i":303,"p":149.82},{"i":306,"p":149.88},{"i":308,"p":149.82},{"i":310,"p":149.99},{"i":312,"p":150.25},{"i":315,"p":150.69},{"i":317,"p":150.82},{"i":318,"p":151.04},{"i":320,"p":150.82},{"i":322,"p":150.78},{"i":324,"p":150.87},{"i":327,"p":150.95},{"i":329,"p":151.3},{"i":330,"p":151.52},{"i":332,"p":151.65},{"i":334,"p":151.89},{"i":336,"p":151.78},{"i":339,"p":151.65},{"i":340,"p":151.83},{"i":342,"p":151.94},{"i":344,"p":151.81},{"i":347,"p":151.52},{"i":349,"p":151.17},{"i":350,"p":151.13},{"i":353,"p":151.3},{"i":355,"p":151.54},{"i":357,"p":151.65},{"i":359,"p":151.92},{"i":360,"p":152.05},{"i":362,"p":151.98},{"i":364,"p":151.78},{"i":365,"p":151.65},{"i":367,"p":151.39},{"i":369,"p":150.91},{"i":371,"p":150.56},{"i":373,"p":150.43},{"i":375,"p":150.65},{"i":377,"p":150.67},{"i":379,"p":150.34},{"i":381,"p":149.77},{"i":382,"p":149.47},{"i":384,"p":149.12},{"i":385,"p":148.98},{"i":387,"p":149.07},{"i":389,"p":148.98},{"i":391,"p":149.2},{"i":393,"p":149.55},{"i":395,"p":149.95}],
"fib":[{"lv":"0.0","p":152.5},{"lv":"23.6","p":148.889},{"lv":"38.2","p":146.655},{"lv":"50.0","p":144.85},{"lv":"61.8","p":143.045},{"lv":"76.4","p":140.811},{"lv":"100.0","p":137.2}],
"tBlue":[{"t":"2021.03.26　H4","i":12.25,"p":152.59},{"t":"400pips/4日　下降","i":409,"p":151.76}],
"tRed":[{"t":"1500pips/60日　上昇","i":70.5,"p":147.06}],
"tBig":[{"t":"約2カ月の上昇からの下降","i":222.25,"p":141.473},{"t":"200MA、FR23.6で戻り上昇中","i":222.25,"p":140.765},{"t":"2波上昇か？","i":222.25,"p":140.056},{"t":"三尊天井を形成し、下降となるのか。","i":222.25,"p":139.347}],
"tNum":[{"t":"0","i":361.75,"p":152.38},{"t":"1","i":384.25,"p":148.245}]
},
"layer":[
{"data":{"name":"fib"},
 "mark":{"type":"rule","color":"#d2691e","strokeDash":[3,2],"strokeWidth":1,"clip":true},
 "encoding":{
  "x":{"datum":-1,"type":"quantitative","scale":{"domain":[-0.625,518.125],"nice":false,"zero":false},
   "axis":{"orient":"bottom","title":null,"grid":false,"values":[-6,10,26,42,58,74,90,106,122,138,154,170,186,202,218,234,250,266,282,298,314,330,346,362,378],
    "labelExpr":"['22 Dec 00:00','24 Dec 16:00','30 Dec 08:00','5 Jan 00:00','7 Jan 16:00','12 Jan 08:00','15 Jan 00:00','19 Jan 16:00','22 Jan 08:00','27 Jan 00:00','29 Jan 16:00','3 Feb 08:00','8 Feb 00:00','10 Feb 16:00','15 Feb 08:00','18 Feb 00:00','22 Feb 16:00','25 Feb 08:00','2 Mar 00:00','4 Mar 16:00','9 Mar 08:00','12 Mar 00:00','16 Mar 12:00','19 Mar 04:00','23 Mar 16:00'][(datum.value+6)/16]",
    "domainColor":"#000000","domainWidth":1,"tickColor":"#000000","tickSize":4,"labelAlign":"left","labelBaseline":"top","labelPadding":0,"labelOffset":1,"labelFont":"Liberation Sans","labelFontSize":9,"labelColor":"#000000","labelOverlap":false,"labelFlush":false,"labelBound":false}},
  "x2":{"datum":490.75},
  "y":{"field":"p","type":"quantitative","scale":{"domain":[136.4,153.14],"nice":false,"zero":false},
   "axis":{"orient":"right","title":null,"grid":false,"values":[152.95,152.52,152.08,151.65,151.21,150.78,150.34,149.91,149.47,149.04,148.6,148.17,147.73,147.3,146.86,146.43,145.99,145.56,145.12,144.69,144.25,143.82,143.38,142.95,142.51,142.08,141.64,141.21,140.77,140.34,139.9,139.47,139.03,138.6,138.16,137.73,137.29,136.86,136.42],
    "format":".3f","domainColor":"#000000","domainWidth":1,"tickColor":"#000000","tickSize":4,"labelAlign":"left","labelBaseline":"middle","labelPadding":3,"labelFont":"Liberation Sans","labelFontSize":9,"labelColor":"#000000","labelOverlap":false,"labelFlush":false,"labelBound":false}}
 }},
{"data":{"name":"fib"},
 "mark":{"type":"text","align":"right","baseline":"bottom","dy":-1,"font":"Liberation Sans","fontSize":8,"color":"#d2691e"},
 "encoding":{"x":{"datum":490.75,"type":"quantitative","scale":{"domain":[-0.625,518.125],"nice":false,"zero":false},"axis":null},
  "y":{"field":"p","type":"quantitative","scale":{"domain":[136.4,153.14],"nice":false,"zero":false},"axis":null},
  "text":{"field":"lv"}}},
{"data":{"values":[{"i0":-8.3,"p0":137.2,"i1":40.75,"p1":152.5}]},
 "mark":{"type":"rule","color":"#d2691e","strokeDash":[3,2],"strokeWidth":1,"clip":true},
 "encoding":{"x":{"field":"i0","type":"quantitative","scale":{"domain":[-0.625,518.125],"nice":false,"zero":false},"axis":null},"x2":{"field":"i1"},
  "y":{"field":"p0","type":"quantitative","scale":{"domain":[136.4,153.14],"nice":false,"zero":false},"axis":null},"y2":{"field":"p1"}}},
{"data":{"values":[{"p":150.154}]},
 "mark":{"type":"rule","color":"#778899","strokeWidth":1},
 "encoding":{"y":{"field":"p","type":"quantitative","scale":{"domain":[136.4,153.14],"nice":false,"zero":false},"axis":null}}},
{"data":{"name":"ma200"},
 "mark":{"type":"line","color":"#b22222","strokeWidth":1.2,"interpolate":"monotone"},
 "encoding":{"x":{"field":"i","type":"quantitative","scale":{"domain":[-0.625,518.125],"nice":false,"zero":false},"axis":null},
  "y":{"field":"p","type":"quantitative","scale":{"domain":[136.4,153.14],"nice":false,"zero":false},"axis":null}}},
{"data":{"name":"candles"},
 "mark":{"type":"rule","color":"#000000","strokeWidth":1},
 "encoding":{"x":{"field":"i","type":"quantitative","scale":{"domain":[-0.625,518.125],"nice":false,"zero":false},"axis":null},
  "y":{"field":"l","type":"quantitative","scale":{"domain":[136.4,153.14],"nice":false,"zero":false},"axis":null},"y2":{"field":"h"}}},
{"data":{"name":"candles"},
 "mark":{"type":"bar","size":2,"stroke":"#000000","strokeWidth":1},
 "encoding":{"x":{"field":"i","type":"quantitative","scale":{"domain":[-0.625,518.125],"nice":false,"zero":false},"axis":null},
  "y":{"field":"o","type":"quantitative","scale":{"domain":[136.4,153.14],"nice":false,"zero":false},"axis":null},"y2":{"field":"c"},
  "fill":{"condition":{"test":"datum.c >= datum.o","value":"#ffffff"},"value":"#000000"}}},
{"data":{"name":"mafast"},
 "mark":{"type":"line","color":"#00007a","strokeWidth":1,"strokeDash":[2,2.5],"interpolate":"monotone"},
 "encoding":{"x":{"field":"i","type":"quantitative","scale":{"domain":[-0.625,518.125],"nice":false,"zero":false},"axis":null},
  "y":{"field":"p","type":"quantitative","scale":{"domain":[136.4,153.14],"nice":false,"zero":false},"axis":null}}},
{"data":{"values":[{"i":155.1,"p":146.473}]},
 "mark":{"type":"point","shape":"M0,-1L0.225,-0.551L0.06,-0.551L0.016,1L-0.016,1L-0.06,-0.551L-0.225,-0.551Z","size":76618,"angle":33,"filled":true,"color":"#f01a1a","opacity":1},
 "encoding":{"x":{"field":"i","type":"quantitative","scale":{"domain":[-0.625,518.125],"nice":false,"zero":false},"axis":null},
  "y":{"field":"p","type":"quantitative","scale":{"domain":[136.4,153.14],"nice":false,"zero":false},"axis":null}}},
{"data":{"values":[{"i":386.6,"p":151.578}]},
 "mark":{"type":"point","shape":"M0,-1L0.39,-0.233L0.24,-0.233L0.07,1L-0.07,1L-0.24,-0.233L-0.39,-0.233Z","size":14400,"angle":159,"filled":true,"color":"#2277ee","opacity":1},
 "encoding":{"x":{"field":"i","type":"quantitative","scale":{"domain":[-0.625,518.125],"nice":false,"zero":false},"axis":null},
  "y":{"field":"p","type":"quantitative","scale":{"domain":[136.4,153.14],"nice":false,"zero":false},"axis":null}}},
{"data":{"name":"tBlue"},
 "mark":{"type":"text","align":"left","baseline":"middle","dx":2,"dy":3,"font":"Liberation Sans, Noto Sans CJK JP","fontSize":34,"fontWeight":"bold","color":"#8a8a8a","opacity":0.55},
 "encoding":{"x":{"field":"i","type":"quantitative","scale":{"domain":[-0.625,518.125],"nice":false,"zero":false},"axis":null},"y":{"field":"p","type":"quantitative","scale":{"domain":[136.4,153.14],"nice":false,"zero":false},"axis":null},"text":{"field":"t"}}},
{"data":{"name":"tBlue"},
 "mark":{"type":"text","align":"left","baseline":"middle","font":"Liberation Sans, Noto Sans CJK JP","fontSize":34,"fontWeight":"bold","fill":"#ffffff","stroke":"#ffffff","strokeWidth":5,"strokeJoin":"round"},
 "encoding":{"x":{"field":"i","type":"quantitative","scale":{"domain":[-0.625,518.125],"nice":false,"zero":false},"axis":null},"y":{"field":"p","type":"quantitative","scale":{"domain":[136.4,153.14],"nice":false,"zero":false},"axis":null},"text":{"field":"t"}}},
{"data":{"name":"tBlue"},
 "mark":{"type":"text","align":"left","baseline":"middle","font":"Liberation Sans, Noto Sans CJK JP","fontSize":34,"fontWeight":"bold","color":"#1f7fef"},
 "encoding":{"x":{"field":"i","type":"quantitative","scale":{"domain":[-0.625,518.125],"nice":false,"zero":false},"axis":null},"y":{"field":"p","type":"quantitative","scale":{"domain":[136.4,153.14],"nice":false,"zero":false},"axis":null},"text":{"field":"t"}}},
{"data":{"name":"tRed"},
 "mark":{"type":"text","align":"left","baseline":"middle","dx":2,"dy":3,"font":"Liberation Sans, Noto Sans CJK JP","fontSize":34,"fontWeight":"bold","color":"#8a8a8a","opacity":0.55},
 "encoding":{"x":{"field":"i","type":"quantitative","scale":{"domain":[-0.625,518.125],"nice":false,"zero":false},"axis":null},"y":{"field":"p","type":"quantitative","scale":{"domain":[136.4,153.14],"nice":false,"zero":false},"axis":null},"text":{"field":"t"}}},
{"data":{"name":"tRed"},
 "mark":{"type":"text","align":"left","baseline":"middle","font":"Liberation Sans, Noto Sans CJK JP","fontSize":34,"fontWeight":"bold","fill":"#ffffff","stroke":"#ffffff","strokeWidth":5,"strokeJoin":"round"},
 "encoding":{"x":{"field":"i","type":"quantitative","scale":{"domain":[-0.625,518.125],"nice":false,"zero":false},"axis":null},"y":{"field":"p","type":"quantitative","scale":{"domain":[136.4,153.14],"nice":false,"zero":false},"axis":null},"text":{"field":"t"}}},
{"data":{"name":"tRed"},
 "mark":{"type":"text","align":"left","baseline":"middle","font":"Liberation Sans, Noto Sans CJK JP","fontSize":34,"fontWeight":"bold","color":"#ee1111"},
 "encoding":{"x":{"field":"i","type":"quantitative","scale":{"domain":[-0.625,518.125],"nice":false,"zero":false},"axis":null},"y":{"field":"p","type":"quantitative","scale":{"domain":[136.4,153.14],"nice":false,"zero":false},"axis":null},"text":{"field":"t"}}},
{"data":{"name":"tBig"},
 "mark":{"type":"text","align":"left","baseline":"middle","dx":2,"dy":3,"font":"Noto Sans CJK JP","fontSize":50,"fontWeight":"bold","color":"#8a8a8a","opacity":0.55},
 "encoding":{"x":{"field":"i","type":"quantitative","scale":{"domain":[-0.625,518.125],"nice":false,"zero":false},"axis":null},"y":{"field":"p","type":"quantitative","scale":{"domain":[136.4,153.14],"nice":false,"zero":false},"axis":null},"text":{"field":"t"}}},
{"data":{"name":"tBig"},
 "mark":{"type":"text","align":"left","baseline":"middle","font":"Noto Sans CJK JP","fontSize":50,"fontWeight":"bold","fill":"#ffffff","stroke":"#ffffff","strokeWidth":5,"strokeJoin":"round"},
 "encoding":{"x":{"field":"i","type":"quantitative","scale":{"domain":[-0.625,518.125],"nice":false,"zero":false},"axis":null},"y":{"field":"p","type":"quantitative","scale":{"domain":[136.4,153.14],"nice":false,"zero":false},"axis":null},"text":{"field":"t"}}},
{"data":{"name":"tBig"},
 "mark":{"type":"text","align":"left","baseline":"middle","font":"Noto Sans CJK JP","fontSize":50,"fontWeight":"bold","color":"#1f7fef"},
 "encoding":{"x":{"field":"i","type":"quantitative","scale":{"domain":[-0.625,518.125],"nice":false,"zero":false},"axis":null},"y":{"field":"p","type":"quantitative","scale":{"domain":[136.4,153.14],"nice":false,"zero":false},"axis":null},"text":{"field":"t"}}},
{"data":{"name":"tNum"},
 "mark":{"type":"text","align":"center","baseline":"middle","font":"Liberation Sans","fontSize":28,"color":"#e00000"},
 "encoding":{"x":{"field":"i","type":"quantitative","scale":{"domain":[-0.625,518.125],"nice":false,"zero":false},"axis":null},"y":{"field":"p","type":"quantitative","scale":{"domain":[136.4,153.14],"nice":false,"zero":false},"axis":null},"text":{"field":"t"}}},
{"data":{"values":[{"p":150.154}]},
 "mark":{"type":"rect","color":"#000000"},
 "encoding":{"x":{"datum":518.6,"type":"quantitative","scale":{"domain":[-0.625,518.125],"nice":false,"zero":false},"axis":null},"x2":{"datum":527.5},
  "y":{"datum":150.24,"type":"quantitative","scale":{"domain":[136.4,153.14],"nice":false,"zero":false},"axis":null},"y2":{"datum":150.07}}},
{"data":{"values":[{"p":150.154,"lab":"150.154"}]},
 "mark":{"type":"text","align":"left","baseline":"middle","font":"Liberation Sans","fontSize":9,"color":"#ffffff"},
 "encoding":{"x":{"datum":518.85,"type":"quantitative","scale":{"domain":[-0.625,518.125],"nice":false,"zero":false},"axis":null},
  "y":{"field":"p","type":"quantitative","scale":{"domain":[136.4,153.14],"nice":false,"zero":false},"axis":null},"text":{"field":"lab"}}}
]
}
